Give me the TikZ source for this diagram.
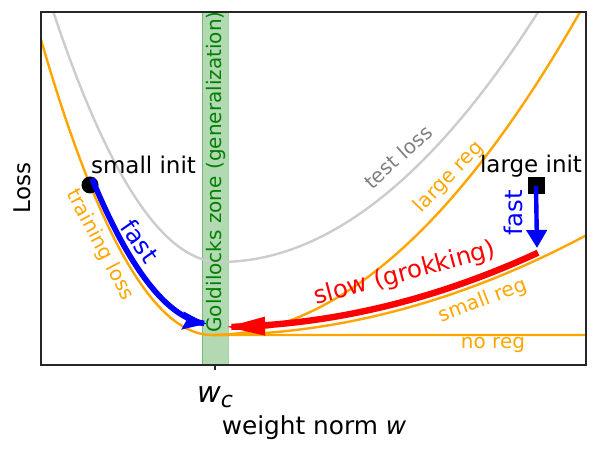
\documentclass[tikz,border=0pt]{standalone}
\usepackage{fontspec}
\setmainfont{DejaVu Sans}
\usetikzlibrary{arrows.meta}
\definecolor{lossorange}{HTML}{FFA500}
\definecolor{zonegreen}{HTML}{008000}
\definecolor{testgray}{HTML}{CCCCCC}
\definecolor{labelgray}{HTML}{808080}
\tikzset{
  regcurve/.style={lossorange,line width=1.2pt},
  curvelabel/.style={font=\fontsize{10}{11}\selectfont,inner sep=0pt},
  bigtext/.style={font=\fontsize{11.5}{13}\selectfont,inner sep=0pt},
  speedtext/.style={font=\fontsize{12.2}{14}\selectfont,inner sep=0pt}
}
\begin{document}
\begin{tikzpicture}[x=0.5pt,y=-0.5pt]
  \useasboundingbox (0,0) rectangle (598,453);
  % Goldilocks zone
  \filldraw[fill=zonegreen,draw=zonegreen,fill opacity=0.3,draw opacity=0.35] (202,12) rectangle (228,365);
  \begin{scope}
    \clip (41,12) rectangle (586,365);
    % Test loss
    \draw[testgray,line width=1.2pt] plot[domain=45:220,samples=50] (\x,{262-90*((220-\x)/100)^2})
      -- plot[domain=220:560,samples=60] (\x,{262-24.7*((\x-220)/100)^2});
    % Training loss and the regularized branches
    \draw[regcurve] plot[domain=35:212,samples=60] (\x,{335-101*((212-\x)/100)^2}) -- (586,335);
    \draw[regcurve] plot[domain=212:590,samples=60] (\x,{335-23.85*((\x-212)/100)^2});
    \draw[regcurve] plot[domain=212:590,samples=60] (\x,{335-7.12*((\x-212)/100)^2});
  \end{scope}
  % Axes
  \draw[black!85,line width=0.7pt] (41,12) rectangle (586,365);
  \draw[black!85,line width=0.7pt] (215,365) -- (215,370);
  % Starting points
  \node[circle,fill=black,inner sep=0pt,minimum size=8.5pt] (smallInitPt) at (90,185) {};
  \node[rectangle,fill=black,inner sep=0pt,minimum size=8.5pt] (largeInitPt) at (536,186) {};
  \coordinate (largeEnd) at (537,248);
  % Fast and slow paths
  \draw[blue,line width=2.8pt,-{Stealth[length=12pt,width=8.5pt,inset=1.5pt]}]
    plot[domain=92:207,samples=40] (\x,{324-101*((212-\x)/100)^2});
  \draw[blue,line width=2.2pt,-{Triangle[length=9pt,width=10pt]}] (largeInitPt.center) -- (largeEnd);
  \draw[red,line width=3.2pt,{Triangle[length=20pt,width=8.5pt]}-]
    plot[domain=225:538,samples=50] (\x,{327-7.12*((\x-215)/100)^2});
  % Labels
  \node[bigtext,rotate=90] (lossLabel) at (22,188) {Loss};
  \node[anchor=base,inner sep=0pt] (wcLabel) at (215,402)
    {{\fontsize{14.5}{16}\selectfont\itshape w}{\fontsize{11}{12}\selectfont\itshape\raisebox{-2.5pt}{c}}};
  \node[anchor=base,inner sep=0pt,font=\fontsize{12.4}{14}\selectfont] (weightLabel) at (314,434) {weight norm \textit{w}};
  \node[bigtext,anchor=base] (smallInit) at (143.5,174) {small init};
  \node[bigtext,anchor=base] (largeInit) at (531,173) {large init};
  \node[curvelabel,zonegreen,rotate=90] (zoneLabel) at (216,172) {Goldilocks zone (generalization)};
  \node[curvelabel,lossorange,rotate=-62] (trainLabel) at (100,245) {training loss};
  \node[curvelabel,labelgray,rotate=42] (testLabel) at (398,157) {test loss};
  \node[curvelabel,lossorange,rotate=46] (largeReg) at (449,177) {large reg};
  \node[curvelabel,lossorange,rotate=21] (smallReg) at (483,301) {small reg};
  \node[curvelabel,lossorange] (noReg) at (493,345) {no reg};
  \node[speedtext,blue,rotate=-55] (fastLeft) at (140,241) {fast};
  \node[speedtext,blue,rotate=90] (fastRight) at (513,213) {fast};
  \node[speedtext,red,rotate=15] (slowLabel) at (405,274) {slow (grokking)};
\end{tikzpicture}
\end{document}
